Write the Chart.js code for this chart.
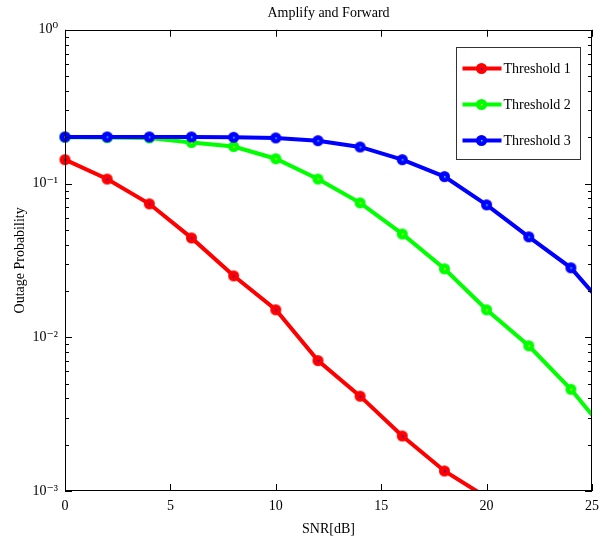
<!DOCTYPE html>
<html>
<head>
<meta charset="utf-8">
<script src="https://cdn.jsdelivr.net/npm/chart.js@4/dist/chart.umd.min.js"></script>
<style>
  html, body { margin: 0; padding: 0; background: #fff; }
</style>
</head>
<body>
<canvas id="outageChart" width="606" height="541"></canvas>
<script>
// SNR points (dB); the last points run past the axis and get clipped like in the original
const snr = [0, 2, 4, 6, 8, 10, 12, 14, 16, 18, 20, 22, 24, 26];
const threshold1 = [0.143, 0.107, 0.0738, 0.0443, 0.0251, 0.0151, 0.00705, 0.00414, 0.00228, 0.00135, 0.00091];
const threshold2 = [0.200, 0.199, 0.198, 0.185, 0.174, 0.145, 0.107, 0.0749, 0.047, 0.0279, 0.0151, 0.0088, 0.00459, 0.00213];
const threshold3 = [0.201, 0.201, 0.201, 0.201, 0.200, 0.198, 0.190, 0.173, 0.143, 0.111, 0.0727, 0.045, 0.0283, 0.0137];
const xTicks = [0, 5, 10, 15, 20, 25];
const yTicks = [0.001, 0.01, 0.1, 1];
const yTickLabels = ['10⁻³', '10⁻²', '10⁻¹', '10⁰'];

const serif = '"Liberation Serif", "DejaVu Serif", serif';

function makeMarker(color, dot) {
  const c = document.createElement('canvas');
  c.width = 13;
  c.height = 13;
  const g = c.getContext('2d');
  g.fillStyle = color;
  g.beginPath();
  g.arc(6.5, 6.5, 5.5, 0, Math.PI * 2);
  g.fill();
  g.fillStyle = dot;
  g.fillRect(6, 6, 1.5, 1.5);
  return c;
}

function series(label, values, color, dot, order) {
  return {
    label,
    data: values.map((v, i) => ({ x: snr[i], y: v })),
    borderColor: color,
    backgroundColor: color,
    borderWidth: 4,
    tension: 0,
    pointStyle: makeMarker(color, dot),
    pointRadius: 6,
    order,
    clip: { left: 10, top: 10, right: 0, bottom: 0 }
  };
}

// frame with inward ticks + legend box inside the plot
const frameAndLegend = {
  id: 'frameAndLegend',
  afterDatasetsDraw(chart) {
    const { ctx, chartArea: a, scales: { x, y } } = chart;
    ctx.save();
    ctx.strokeStyle = '#000';
    ctx.lineWidth = 1;
    ctx.strokeRect(Math.round(a.left) + 0.5, Math.round(a.top) + 0.5, Math.round(a.width) - 1, Math.round(a.height) - 1);

    ctx.beginPath();
    xTicks.forEach(v => {
      const px = Math.round(x.getPixelForValue(v)) + 0.5;
      ctx.moveTo(px, a.bottom);
      ctx.lineTo(px, a.bottom - 7);
      ctx.moveTo(px, a.top);
      ctx.lineTo(px, a.top + 7);
    });
    for (let e = -3; e <= 0; e++) {
      for (let k = 1; k <= 9; k++) {
        const v = k * Math.pow(10, e);
        if (v > 1) break;
        const py = Math.round(y.getPixelForValue(v)) + 0.5;
        const len = k === 1 ? 7 : 4;
        ctx.moveTo(a.left, py);
        ctx.lineTo(a.left + len, py);
        ctx.moveTo(a.right, py);
        ctx.lineTo(a.right - len, py);
      }
    }
    ctx.stroke();

    // legend
    const boxW = 124, boxH = 112;
    const bx = Math.round(a.right - 12 - boxW) + 0.5;
    const by = Math.round(a.top + 17) + 0.5;
    ctx.fillStyle = '#fff';
    ctx.fillRect(bx, by, boxW, boxH);
    ctx.strokeStyle = '#333';
    ctx.strokeRect(bx, by, boxW, boxH);
    ctx.font = '14px ' + serif;
    ctx.textBaseline = 'middle';
    ctx.textAlign = 'left';
    [0, 1, 2].forEach(i => {
      const ds = chart.data.datasets[i];
      const ly = by + 21 + i * 36;
      ctx.strokeStyle = ds.borderColor;
      ctx.lineWidth = 4;
      ctx.beginPath();
      ctx.moveTo(bx + 6, ly);
      ctx.lineTo(bx + 45, ly);
      ctx.stroke();
      const m = ds.pointStyle;
      ctx.drawImage(m, bx + 25 - m.width / 2, ly - m.height / 2);
      ctx.fillStyle = '#000';
      ctx.fillText(ds.label, bx + 47, ly + 1);
    });
    ctx.restore();
  }
};

const ctx = document.getElementById('outageChart').getContext('2d');
new Chart(ctx, {
  type: 'line',
  data: {
    datasets: [
      series('Threshold 1', threshold1, '#ff0000', '#0000ff', 3),
      series('Threshold 2', threshold2, '#00ff00', '#ffff00', 2),
      series('Threshold 3', threshold3, '#0000ff', '#00ffff', 1)
    ]
  },
  options: {
    responsive: false,
    animation: false,
    devicePixelRatio: 1,
    layout: { padding: { left: 0, right: 13, top: 0, bottom: 0 } },
    plugins: {
      legend: { display: false },
      tooltip: { enabled: false },
      title: {
        display: true,
        text: 'Amplify and Forward',
        color: '#000',
        fullSize: false,
        font: { family: serif, size: 14, weight: 'normal' },
        padding: { top: 5, bottom: 8 }
      }
    },
    scales: {
      x: {
        type: 'linear',
        min: 0,
        max: 25,
        afterBuildTicks(scale) {
          scale.ticks = xTicks.map(v => ({ value: v }));
        },
        afterFit(scale) {
          scale.height = 50;
        },
        grid: { display: false, drawTicks: false },
        border: { display: false },
        ticks: {
          color: '#000',
          padding: 7,
          maxRotation: 0,
          font: { family: serif, size: 14 }
        },
        title: {
          display: true,
          text: 'SNR[dB]',
          color: '#000',
          font: { family: serif, size: 14 },
          padding: { top: 0, bottom: 3 }
        }
      },
      y: {
        type: 'logarithmic',
        min: 0.001,
        max: 1,
        afterBuildTicks(scale) {
          scale.ticks = yTicks.map(v => ({ value: v }));
        },
        afterFit(scale) {
          scale.width = 65;
        },
        grid: { display: false, drawTicks: false },
        border: { display: false },
        ticks: {
          color: '#000',
          padding: 7,
          font: { family: serif, size: 14 },
          callback(value) {
            const i = yTicks.indexOf(value);
            return i >= 0 ? yTickLabels[i] : '';
          }
        },
        title: {
          display: true,
          text: 'Outage Probability',
          color: '#000',
          font: { family: serif, size: 14 },
          padding: { top: 12, bottom: 0 }
        }
      }
    }
  },
  plugins: [frameAndLegend]
});
</script>
</body>
</html>
